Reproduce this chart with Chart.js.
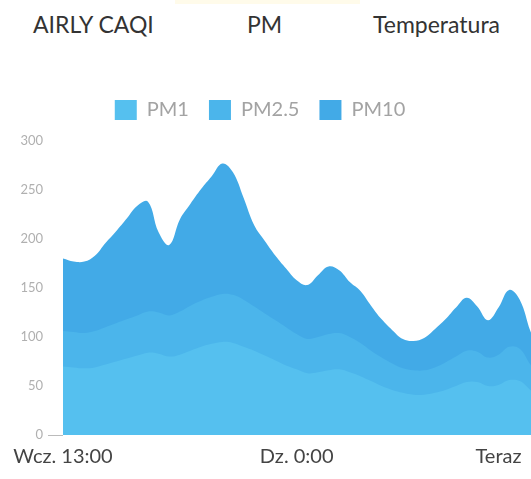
<!DOCTYPE html>
<html>
<head>
<meta charset="utf-8">
<script src="https://cdn.jsdelivr.net/npm/chart.js@4.4.0/dist/chart.umd.min.js"></script>
<style>
  html, body { margin: 0; padding: 0; background: #fff; width: 531px; height: 479px; overflow: hidden; }
  .tabs span { position: absolute; top: 13px; font-family: Lato, sans-serif; font-size: 23px; line-height: 23px; color: #333; }
  #bar { position: absolute; left: 175px; top: 0; width: 185px; height: 4px; background: #fffbea; }
  /* canvas is wider than the window: the reference is cropped on the right */
  #wrap { position: absolute; left: -31px; top: 80px; width: 582px; height: 399px; }
</style>
</head>
<body>
<div id="bar"></div>
<div class="tabs">
  <span style="left:33px">AIRLY CAQI</span>
  <span style="left:247px">PM</span>
  <span style="left:373px">Temperatura</span>
</div>
<div id="wrap"><canvas id="chart"></canvas></div>
<script>
// half-hour steps, from yesterday 13:00
let times = ['13:00','13:30','14:00','14:30','15:00','15:30','16:00','16:30','17:00','17:30',
             '18:00','18:30','19:00','19:30','20:00','20:30','21:00','21:30','22:00','22:30',
             '23:00','23:30','0:00','0:30','1:00','1:30','2:00','2:30','3:00','3:30',
             '4:00','4:30','5:00','5:30','6:00','6:30','7:00','7:30','8:00','8:30',
             '9:00','9:30','10:00','10:30','11:00','11:30'];

// only these get a label under the axis
let shownLabels = { 0: 'Wcz. 13:00', 22: 'Dz. 0:00', 41: 'Teraz' };

let pm10 = [180, 177, 177, 183, 196, 208, 221, 234, 238, 207,
            194, 220, 236, 251, 264, 277, 268, 242, 214, 198,
            183, 170, 158, 153, 163, 172, 168, 156, 147, 132,
            118, 107, 98, 96, 99, 108, 118, 130, 140, 131,
            117, 130, 148, 138, 106, 80];

let pm25 = [106, 105, 104, 106, 110, 114, 118, 122, 126, 125,
            122, 126, 132, 137, 141, 144, 143, 138, 131, 124,
            117, 110, 103, 98, 100, 103, 104, 100, 94, 86,
            79, 73, 68, 66, 66, 69, 74, 80, 86, 85,
            79, 82, 90, 88, 72, 60];

let pm1 = [70, 69, 68, 69, 72, 75, 78, 81, 84, 83,
           80, 82, 86, 90, 93, 95, 94, 90, 86, 81,
           76, 71, 67, 63, 64, 66, 67, 64, 60, 55,
           50, 46, 43, 41, 41, 43, 46, 50, 54, 54,
           50, 51, 56, 55, 46, 38];

let yTicks = [0, 50, 100, 150, 200, 250, 300];

function area(label, values, color) {
    return {
        label: label,
        data: values,
        backgroundColor: color,
        borderColor: color,
        borderWidth: 0,
        pointRadius: 0,
        fill: 'origin',
        tension: 0.4
    };
}

let ctx = document.getElementById('chart');
new Chart(ctx, {
    type: 'line',
    data: {
        labels: times,
        datasets: [
            area('PM1', pm1, '#55c0ef'),
            area('PM2.5', pm25, '#4bb5eb'),
            area('PM10', pm10, '#42aae7')
        ]
    },
    options: {
        responsive: true,
        maintainAspectRatio: false,
        animation: false,
        layout: { padding: 0 },
        plugins: {
            tooltip: { enabled: false },
            legend: {
                position: 'top',
                labels: {
                    boxWidth: 22,
                    boxHeight: 20,
                    padding: 20,
                    color: '#a3a3a3',
                    font: { family: 'Lato', size: 20 }
                }
            }
        },
        scales: {
            // empty strip between the legend and the plot
            gap: {
                type: 'category',
                position: 'top',
                grid: { display: false },
                border: { display: false },
                ticks: { display: false },
                afterFit: (scale) => { scale.height = 11; }
            },
            x: {
                grid: { display: false, drawTicks: false },
                border: { display: false },
                afterFit: (scale) => { scale.height = 44; },
                ticks: {
                    autoSkip: false,
                    maxRotation: 0,
                    padding: 10,
                    color: '#444',
                    font: { family: 'Lato', size: 20 },
                    callback: (value, index) => shownLabels[index] || ''
                }
            },
            y: {
                min: yTicks[0],
                max: yTicks[yTicks.length - 1],
                border: { display: false },
                afterFit: (scale) => { scale.width = 94; },
                grid: {
                    drawOnChartArea: false,
                    tickLength: 15,
                    color: (c) => (c.tick && c.tick.value === 0) ? '#bbb' : 'rgba(0,0,0,0)'
                },
                ticks: {
                    stepSize: 50,
                    padding: 5,
                    color: '#b0b0b0',
                    font: { family: 'Lato', size: 13 }
                }
            }
        }
    }
});
</script>
</body>
</html>
